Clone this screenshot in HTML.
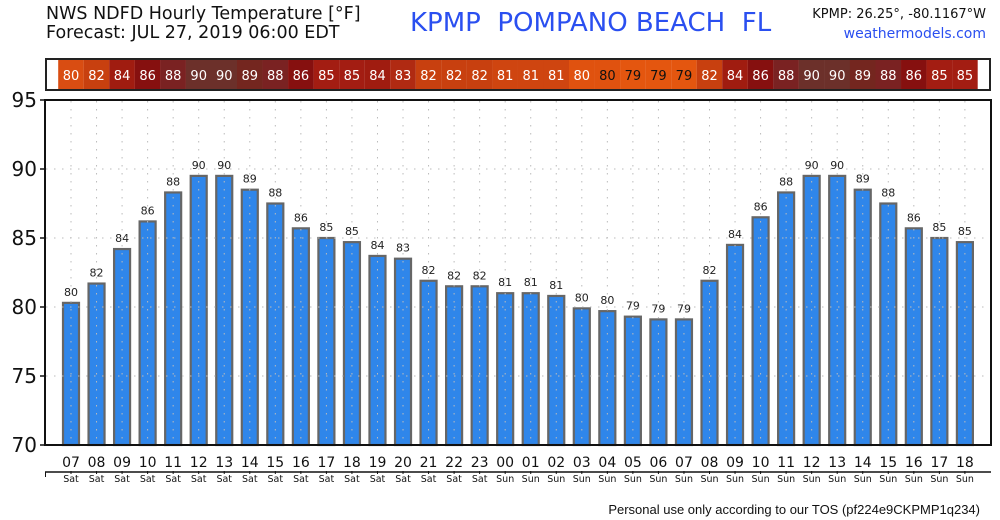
<!DOCTYPE html><html><head><meta charset="utf-8"><style>body{margin:0;background:#fff}svg{display:block;font-family:"DejaVu Sans","Liberation Sans",sans-serif}</style></head><body>
<svg id="s" width="1000" height="520" xmlns="http://www.w3.org/2000/svg">
<text x="46" y="19" font-size="17.5" fill="#111">NWS NDFD Hourly Temperature [°F]</text>
<text x="46" y="38" font-size="17.5" fill="#111">Forecast: JUL 27, 2019 06:00 EDT</text>
<text x="410" y="31" font-size="26" fill="#2a4ff0" xml:space="preserve">KPMP  POMPANO BEACH  FL</text>
<text x="986" y="18" font-size="13" fill="#111" text-anchor="end">KPMP: 26.25°, -80.1167°W</text>
<text x="986" y="38" font-size="14" fill="#2a4ff0" text-anchor="end">weathermodels.com</text>
<g id="g"></g>
<text x="980" y="514" font-size="13" fill="#111" text-anchor="end" font-family="Liberation Sans">Personal use only according to our TOS (pf224e9CKPMP1q234)</text>
</svg>
<script>
var v=[80,82,84,86,88,90,90,89,88,86,85,85,84,83,82,82,82,81,81,81,80,80,79,79,79,82,84,86,88,90,90,89,88,86,85,85];
var h=[80.3,81.7,84.2,86.2,88.3,89.5,89.5,88.5,87.5,85.7,85.0,84.7,83.7,83.5,81.9,81.5,81.5,81.0,81.0,80.8,79.9,79.7,79.3,79.1,79.1,81.9,84.5,86.5,88.3,89.5,89.5,88.5,87.5,85.7,85.0,84.7];
var hr=["07","08","09","10","11","12","13","14","15","16","17","18","19","20","21","22","23","00","01","02","03","04","05","06","07","08","09","10","11","12","13","14","15","16","17","18"];
var col={79:"#e4560f",80:"#e0520f",81:"#cf4510",82:"#c8400f",83:"#b02a12",84:"#a01c10",85:"#a31d12",86:"#86100f",88:"#7a2222",89:"#74261f",90:"#6c302a"};
var s="",L=45,R=991,T=100,B=445,X=i=>71+i*25.54,Y=t=>B-(t-70)*(B-T)/25;
s+='<rect x="46" y="59" width="944" height="31" fill="#fff" stroke="#222" stroke-width="2"/>';
for(var i=0;i<36;i++){var x=X(i);var c=col[v[i]];if(v[i]==80&&i<2)c="#d94d12";
s+='<rect x="'+(x-12.8)+'" y="60" width="25.6" height="29" fill="'+c+'"/>';
var tc=(i==21||i==22||i==23||i==24)?"#111":"#fff";
s+='<text x="'+x+'" y="80" font-size="13" fill="'+tc+'" text-anchor="middle">'+v[i]+'</text>';}
s+='<rect x="'+L+'" y="'+T+'" width="'+(R-L)+'" height="'+(B-T)+'" fill="#fff" stroke="#111" stroke-width="2"/>';
for(var i=0;i<36;i++){var x=X(i),y=Y(h[i]);
s+='<rect x="'+(x-8)+'" y="'+y+'" width="16" height="'+(B-y)+'" fill="#2f86ea" stroke="#666" stroke-width="2.2"/>';
s+='<text x="'+x+'" y="'+(y-7)+'" font-size="11" fill="#222" text-anchor="middle">'+v[i]+'</text>';
s+='<text x="'+x+'" y="467" font-size="14" fill="#111" text-anchor="middle">'+hr[i]+'</text>';
s+='<text x="'+x+'" y="482" font-size="9.5" fill="#111" text-anchor="middle">'+(i<17?"Sat":"Sun")+'</text>';
s+='<line x1="'+x+'" y1="471" x2="'+x+'" y2="474" stroke="#111"/>';
s+='<line x1="'+x+'" y1="101" x2="'+x+'" y2="444" stroke="#bbb" stroke-dasharray="1.5,6.5"/>';}
for(var t=75;t<95;t+=5){var y=Y(t);s+='<line x1="46" y1="'+y+'" x2="990" y2="'+y+'" stroke="#bbb" stroke-dasharray="1.5,6.5"/>';}
for(var t=70;t<=95;t+=5){var y=Y(t);s+='<line x1="40" y1="'+y+'" x2="45" y2="'+y+'" stroke="#111" stroke-width="1.5"/><text x="37" y="'+(y+7)+'" font-size="20" fill="#111" text-anchor="end">'+t+'</text>';}
s+='<line x1="45" y1="'+B+'" x2="991" y2="'+B+'" stroke="#111" stroke-width="2"/>';
s+='<line x1="45" y1="472" x2="991" y2="472" stroke="#111" stroke-width="1.5"/><line x1="45.5" y1="472" x2="45.5" y2="477" stroke="#111"/>';
document.getElementById("g").innerHTML=s;
</script></body></html>
